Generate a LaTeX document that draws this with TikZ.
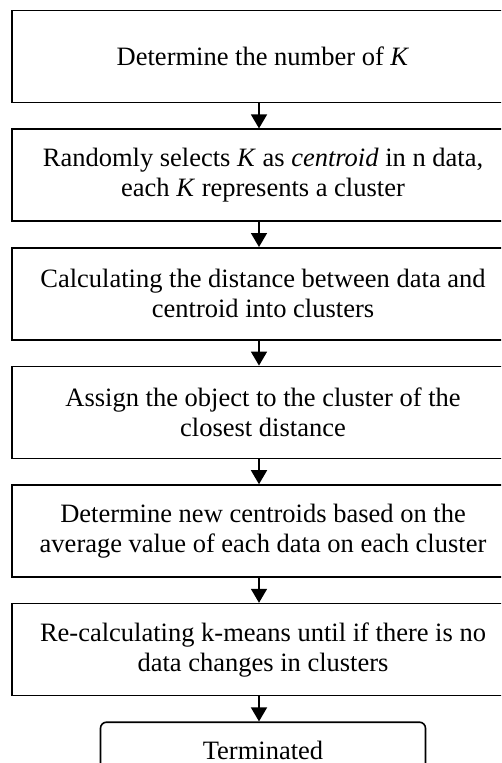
\documentclass[tikz,border=0pt]{standalone}
\usepackage{fontspec}
\setmainfont{Liberation Serif}
\usetikzlibrary{positioning, arrows.meta, shapes}

\begin{document}
\begin{tikzpicture}[->,>={Triangle[width=16pt,length=14pt]}, line width=1.6pt, every node/.style={font=\fontsize{26.5}{30}\selectfont}]
  \useasboundingbox (0,0) rectangle (501pt,-763pt);
  \clip (0,0) rectangle (501pt,-763pt);
  \matrix[anchor=north, inner sep=0pt, row sep=25pt, nodes={draw, rectangle, align=center, minimum width=502pt, minimum height=92pt}] at (263pt,-9pt) {
    \node (number) {Determine the number of \textit{K}};\\
    \node (select) {Randomly selects \textit{K} as \textit{centroid} in n data,\\each \textit{K} represents a cluster};\\
    \node (distance) {Calculating the distance between data and\\centroid into clusters};\\
    \node (assign) {Assign the object to the cluster of the\\closest distance};\\
    \node (update) {Determine new centroids based on the\\average value of each data on each cluster};\\
    \node (recalc) {Re-calculating k-means until if there is no\\data changes in clusters};\\
    \node[rounded corners=6pt, minimum width=325pt, minimum height=56pt] (done) {Terminated};\\
  };
  \path
    ([xshift=-4pt]number.south) edge ([xshift=-4pt]select.north)
    ([xshift=-4pt]select.south) edge ([xshift=-4pt]distance.north)
    ([xshift=-4pt]distance.south) edge ([xshift=-4pt]assign.north)
    ([xshift=-4pt]assign.south) edge ([xshift=-4pt]update.north)
    ([xshift=-4pt]update.south) edge ([xshift=-4pt]recalc.north)
    ([xshift=-4pt]recalc.south) edge ([xshift=-4pt]done.north);
\end{tikzpicture}
\end{document}
